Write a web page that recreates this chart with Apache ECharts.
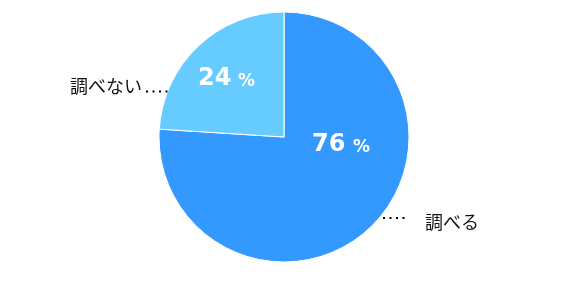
<!DOCTYPE html>
<html><head><meta charset="utf-8">
<script src="https://cdn.jsdelivr.net/npm/echarts@6/dist/echarts.min.js"></script>
<style>html,body{margin:0;padding:0;background:#fff}#c{width:571px;height:298px}</style>
</head><body><div id="c"></div>
<script>
const categories = ['調べる', '調べない'];
const values = [76, 24];
const colors = ['#3399FF', '#66CCFF'];

const chart = echarts.init(document.getElementById('c'), null, {renderer: 'canvas'});
const cx = 284, cy = 137, R = 125;

function txt(t, x, y, size, bold, fill) {
  return {
    type: 'text', z: 10,
    style: {
      text: t, x: x, y: y, verticalAlign: 'middle', align: 'left',
      fontFamily: bold ? 'DejaVu Sans' : 'Noto Sans CJK JP',
      fontWeight: bold ? 'bold' : 'normal', fontSize: size, fill: fill
    }
  };
}
function dots(x1, x2, y) {
  return {
    type: 'line', z: 10,
    shape: {x1: x1, y1: y, x2: x2, y2: y},
    style: {stroke: '#000', lineWidth: 2, lineDash: [2, 4.5]}
  };
}

chart.setOption({
  animation: false,
  series: [{
    type: 'pie',
    center: [cx, cy],
    radius: [0, R],
    startAngle: 90,
    clockwise: true,
    label: {show: false},
    labelLine: {show: false},
    itemStyle: {borderColor: '#fff', borderWidth: 1},
    data: categories.map((c, i) => ({name: c, value: values[i], itemStyle: {color: colors[i]}}))
  }],
  graphic: [
    txt(String(values[0]), 312, 145, 24, true, '#fff'),
    txt('%', 353, 148, 17, true, '#fff'),
    txt(String(values[1]), 198, 79, 24, true, '#fff'),
    txt('%', 238, 82, 17, true, '#fff'),
    dots(146, 168, 91.5),
    dots(383, 406, 218),
    txt(categories[1], 70, 86, 18, false, '#111'),
    txt(categories[0], 425, 222, 18, false, '#111')
  ]
});
</script></body></html>
